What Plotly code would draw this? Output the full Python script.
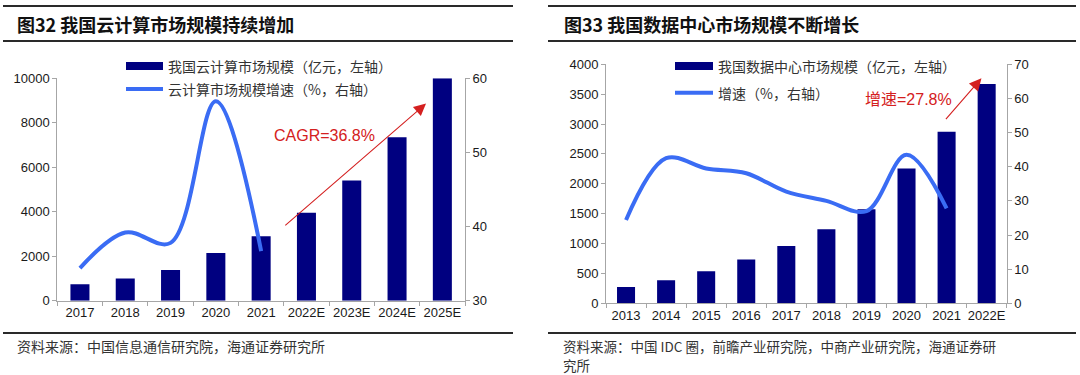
import plotly.graph_objects as go

# ---------------- data ----------------
cloud_years = ["2017", "2018", "2019", "2020", "2021", "2022E", "2023E", "2024E", "2025E"]
cloud_size = [735, 1000, 1375, 2140, 2900, 3950, 5400, 7350, 10000]
cloud_growth_years = ["2017", "2018", "2019", "2020", "2021"]
cloud_growth = [34.4, 39.2, 37.8, 56.9, 36.7]

dc_years = ["2013", "2014", "2015", "2016", "2017", "2018", "2019", "2020", "2021", "2022E"]
dc_size = [273, 385, 536, 731, 960, 1238, 1573, 2254, 2873, 3671]
dc_growth_years = ["2013", "2014", "2015", "2016", "2017", "2018", "2019", "2020", "2021"]
dc_growth = [24.4, 42.5, 39.5, 38.1, 32.7, 30.0, 27.0, 43.5, 27.8]

left_ticks = [0, 2000, 4000, 6000, 8000, 10000]
left_rticks = [30, 40, 50, 60]
right_ticks = [0, 500, 1000, 1500, 2000, 2500, 3000, 3500, 4000]
right_rticks = [0, 10, 20, 30, 40, 50, 60, 70]

title_left = "图32 我国云计算市场规模持续增加"
title_right = "图33 我国数据中心市场规模不断增长"
legend_left = ["我国云计算市场规模（亿元，左轴）", "云计算市场规模增速（%，右轴）"]
legend_right = ["我国数据中心市场规模（亿元，左轴）", "增速（%，右轴）"]
source_left = "资料来源：中国信息通信研究院，海通证券研究所"
source_right = ["资料来源：中国 IDC 圈，前瞻产业研究院，中商产业研究院，海通证券研", "究所"]
note_left = "CAGR=36.8%"
note_right = "增速=27.8%"

# ---------------- style ----------------
W, H = 1080, 375
NAVY = "#000080"
BLUE = "#3A6CF4"
RED = "#D42020"
AXIS = "#A6A6A6"
TXT = "#1a1a1a"
FONT = "Liberation Sans, Arial, Noto Sans CJK SC, sans-serif"
CJK = "Noto Sans CJK SC, sans-serif"


def px_x(p):
    return p / W


def px_y(p):
    return 1 - p / H


fig = go.Figure()

fig.add_trace(go.Bar(x=cloud_years, y=cloud_size, xaxis="x", yaxis="y",
                     marker=dict(color=NAVY, line=dict(width=0)), width=0.42,
                     showlegend=False))
fig.add_trace(go.Scatter(x=cloud_growth_years, y=cloud_growth, xaxis="x", yaxis="y2",
                         mode="lines", line=dict(color=BLUE, width=4, shape="spline", smoothing=1.0),
                         showlegend=False))
fig.add_trace(go.Bar(x=dc_years, y=dc_size, xaxis="x2", yaxis="y3",
                     marker=dict(color=NAVY, line=dict(width=0)), width=0.45,
                     showlegend=False))
fig.add_trace(go.Scatter(x=dc_growth_years, y=dc_growth, xaxis="x2", yaxis="y4",
                         mode="lines", line=dict(color=BLUE, width=4, shape="spline", smoothing=1.0),
                         showlegend=False))

tickfont = dict(family=FONT, size=13, color=TXT)
common_axis = dict(showgrid=False, zeroline=False, showline=True, linecolor=AXIS, linewidth=1,
                   ticks="outside", ticklen=4, tickcolor=AXIS, tickfont=tickfont,
                   automargin=False)

ldom_y = [px_y(300.7), px_y(78.3)]
rdom_y = [px_y(303.3), px_y(64.3)]

fig.update_layout(
    width=W, height=H, margin=dict(l=0, r=0, t=0, b=0),
    paper_bgcolor="white", plot_bgcolor="white",
    xaxis=dict(domain=[px_x(57.3), px_x(465)], anchor="y", type="category", tickangle=0,
               tickson="boundaries", range=[-0.5, 8.5], **common_axis),
    yaxis=dict(domain=ldom_y, anchor="x", range=[0, 10000], tickvals=left_ticks,
               tickformat="d", **common_axis),
    yaxis2=dict(overlaying="y", side="right", anchor="x", range=[30, 60], tickvals=left_rticks,
                **common_axis),
    xaxis2=dict(domain=[px_x(606), px_x(1006.7)], anchor="y3", type="category", tickangle=0,
                tickson="boundaries", range=[-0.5, 9.5], **common_axis),
    yaxis3=dict(domain=rdom_y, anchor="x2", range=[0, 4000], tickvals=right_ticks,
                tickformat="d", **common_axis),
    yaxis4=dict(overlaying="y3", side="right", anchor="x2", range=[0, 70], tickvals=right_rticks,
                **common_axis),
)

shapes = []
annotations = []

# title and footer rules
for x0, x1 in [(3, 513), (548, 1076)]:
    for yy in (6, 41, 333):
        shapes.append(dict(type="line", xref="paper", yref="paper",
                           x0=px_x(x0), x1=px_x(x1), y0=px_y(yy), y1=px_y(yy),
                           line=dict(color="#2a2a2a", width=2)))

annotations.append(dict(text="<b>" + title_left + "</b>", xref="paper", yref="paper",
                        x=px_x(15), y=px_y(24), xanchor="left", yanchor="middle", showarrow=False,
                        font=dict(family=CJK, size=18, color="#111")))
annotations.append(dict(text="<b>" + title_right + "</b>", xref="paper", yref="paper",
                        x=px_x(562), y=px_y(24), xanchor="left", yanchor="middle", showarrow=False,
                        font=dict(family=CJK, size=18, color="#111")))

annotations.append(dict(text=source_left, xref="paper", yref="paper",
                        x=px_x(15), y=px_y(345.5), xanchor="left", yanchor="middle", showarrow=False,
                        font=dict(family=CJK, size=14, color="#333")))
for txt, yy in zip(source_right, (345.5, 365.3)):
    annotations.append(dict(text=txt, xref="paper", yref="paper", align="left",
                            x=px_x(561), y=px_y(yy), xanchor="left", yanchor="middle",
                            showarrow=False, font=dict(family=CJK, size=13.5, color="#333")))

# custom legends
def add_legend(x0, x1, ybar, yline, labels):
    shapes.append(dict(type="rect", xref="paper", yref="paper",
                       x0=px_x(x0), x1=px_x(x1), y0=px_y(ybar + 4), y1=px_y(ybar - 4),
                       fillcolor=NAVY, line=dict(width=0)))
    shapes.append(dict(type="line", xref="paper", yref="paper",
                       x0=px_x(x0), x1=px_x(x1), y0=px_y(yline), y1=px_y(yline),
                       line=dict(color=BLUE, width=4)))
    for lab, yy in zip(labels, (ybar, yline)):
        annotations.append(dict(text=lab, xref="paper", yref="paper", x=px_x(x1 + 3), y=px_y(yy),
                                xanchor="left", yanchor="middle", showarrow=False,
                                font=dict(family=CJK, size=14, color="#333")))

add_legend(126, 163, 66, 89, legend_left)
add_legend(675, 713, 66, 92.7, legend_right)

# CAGR note and arrow (left)
annotations.append(dict(text=note_left, xref="x", yref="y", x=5.4, y=7444, showarrow=False,
                        font=dict(family=FONT, size=16, color=RED)))
annotations.append(dict(text="", xref="x", yref="y", x=7.64, y=8865, axref="x", ayref="y",
                        ax=4.5, ay=3332, showarrow=True, arrowhead=2, arrowsize=2.2,
                        arrowwidth=1.1, arrowcolor=RED))
# growth note and arrow (right)
annotations.append(dict(text=note_right, xref="x2", yref="y3", x=7.04, y=3419, showarrow=False,
                        font=dict(family=FONT, size=16, color=RED)))
annotations.append(dict(text="", xref="x2", yref="y3", x=8.87, y=3766, axref="x2", ayref="y3",
                        ax=7.95, ay=3056, showarrow=True, arrowhead=2, arrowsize=2.2,
                        arrowwidth=1.1, arrowcolor=RED))

fig.update_layout(shapes=shapes, annotations=annotations)

fig.write_html("out.html", config={"displayModeBar": False})

# remove the default page margin so the figure sits at the window's top-left corner
with open("out.html", "r", encoding="utf-8") as f:
    html = f.read()
html = html.replace("<head>", "<head><style>html,body{margin:0;padding:0;overflow:hidden;}</style>", 1)
with open("out.html", "w", encoding="utf-8") as f:
    f.write(html)
